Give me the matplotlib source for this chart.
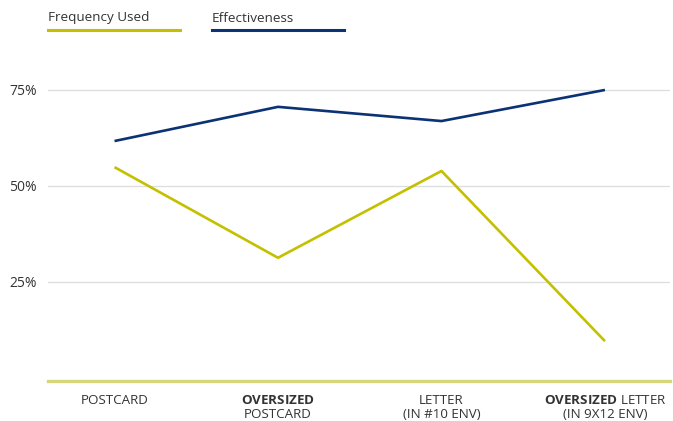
import matplotlib
matplotlib.use("Agg")
import matplotlib.pyplot as plt

plt.rcParams['font.family'] = ['Open Sans', 'DejaVu Sans']
plt.rcParams['mathtext.fontset'] = 'custom'
plt.rcParams['mathtext.rm'] = 'Open Sans'
plt.rcParams['mathtext.bf'] = 'Open Sans:bold'

categories = [r"POSTCARD",
              r"$\mathbf{OVERSIZED}$" + "\nPOSTCARD",
              "LETTER\n(IN #10 ENV)",
              r"$\mathbf{OVERSIZED}$ LETTER" + "\n(IN 9X12 ENV)"]
frequency_used = [54.9, 31.3, 53.9, 9.6]
effectiveness = [61.7, 70.6, 66.9, 75.0]
yticks = [25, 50, 75]

YELLOW = '#c4c000'
NAVY = '#0b3274'
TEXT = '#333333'

fig = plt.figure(figsize=(6.73, 4.21), dpi=100)
ax = fig.add_axes([48 / 673, 40 / 421, 622 / 673, 331 / 421])

x = range(len(categories))
ax.plot(x, effectiveness, color=NAVY, lw=1.9, solid_capstyle='butt', zorder=3)
ax.plot(x, frequency_used, color=YELLOW, lw=1.9, solid_capstyle='butt', zorder=3)

ax.set_xlim(-0.407, 3.398)
ax.set_ylim(-0.78, 85.4)

# light gridlines plus heavy baseline
for t in yticks:
    ax.axhline(t, color='#dddddd', lw=0.9, zorder=1)
ax.axhline(-0.78, color='#d8d67a', lw=2.4, zorder=2, clip_on=False)

ax.set_yticks(yticks)
ax.set_yticklabels([f"{t}%" for t in yticks], color=TEXT, fontsize=10)
ax.tick_params(axis='y', length=0, pad=8)
ax.set_xticks(list(x))
ax.set_xticklabels(categories, color=TEXT, fontsize=9.6, linespacing=1.15)
ax.tick_params(axis='x', length=0, pad=9)
for s in ax.spines.values():
    s.set_visible(False)

# legend drawn as text with an underline bar
legend = [("Frequency Used", YELLOW, 48), ("Effectiveness", NAVY, 212)]
for label, color, px in legend:
    fig.text(px / 673, 1 - 18 / 421, label, color=TEXT, fontsize=9.7,
             ha='left', va='center')
    fig.add_artist(plt.Line2D([px / 673, (px + 132) / 673],
                              [1 - 30 / 421, 1 - 30 / 421],
                              color=color, lw=2.2, transform=fig.transFigure))

fig.savefig("out.png", dpi=100)
